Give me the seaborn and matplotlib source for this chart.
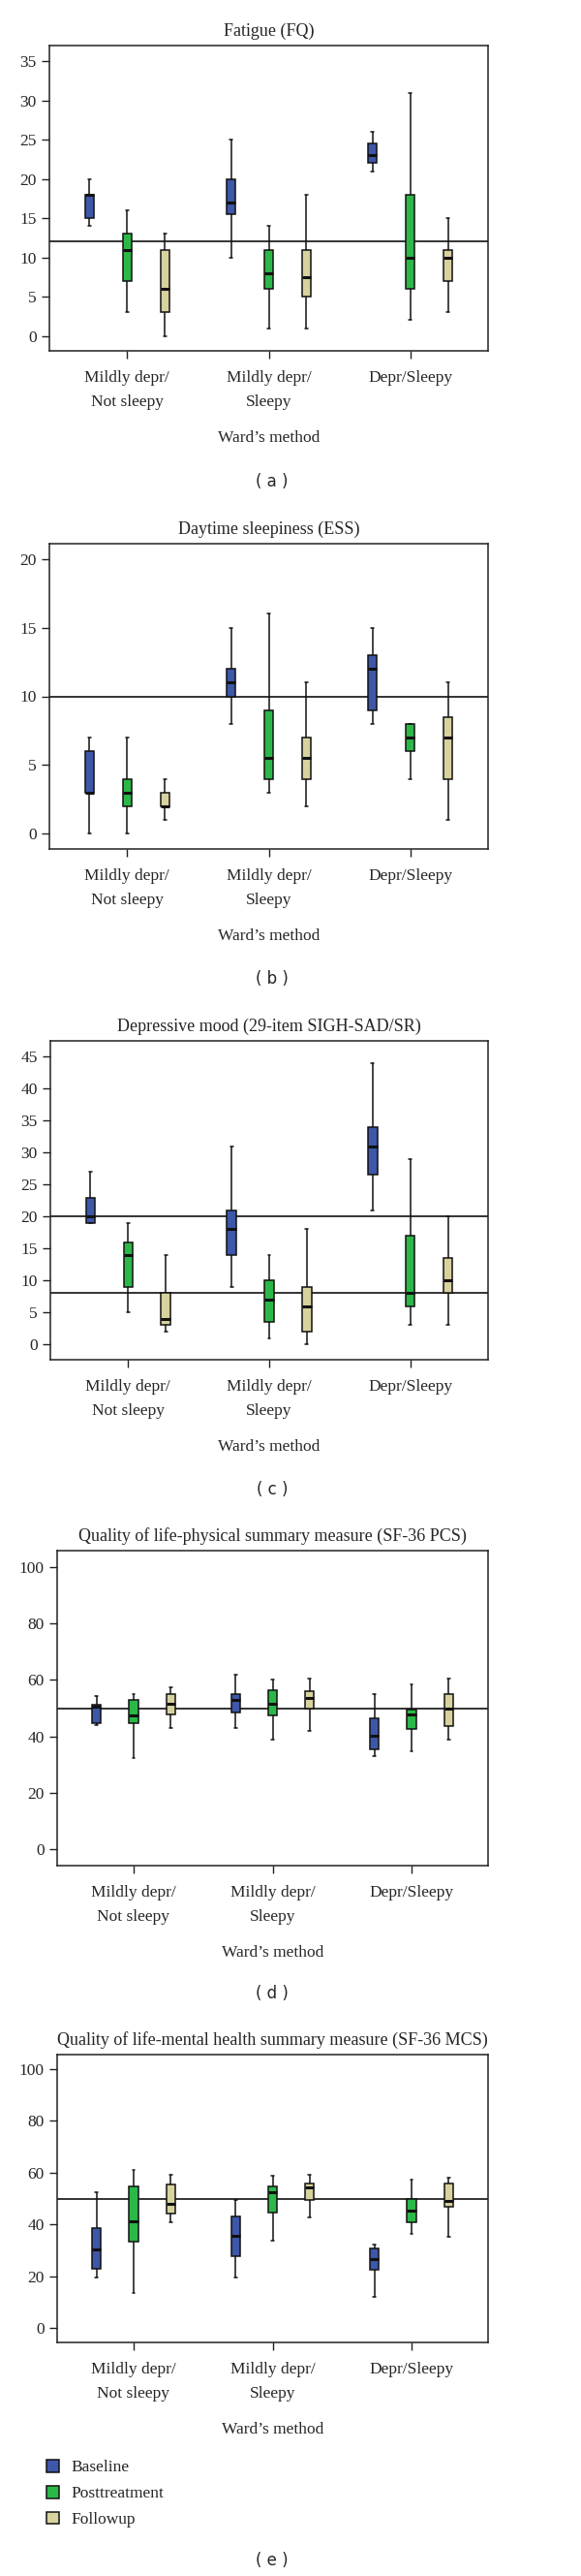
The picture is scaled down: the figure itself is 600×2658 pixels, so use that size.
import numpy as np
import pandas as pd
import seaborn as sns
import matplotlib.pyplot as plt

# 그룹 / 측정 시점
groups = ['Mildly depr/\nNot sleepy', 'Mildly depr/\nSleepy', 'Depr/Sleepy']
times = ['Baseline', 'Posttreatment', 'Followup']
colors = {'Baseline': '#3d57a9', 'Posttreatment': '#2cb848', 'Followup': '#d8d29e'}

# 각 상자: [min, Q1, median, Q3, max], 그룹 순서대로
fq_baseline = [[14, 15, 18, 18, 20], [10, 15.5, 17, 20, 25], [21, 22, 23, 24.5, 26]]
fq_post = [[3, 7, 11, 13, 16], [1, 6, 8, 11, 14], [2, 6, 10, 18, 31]]
fq_follow = [[0, 3, 6, 11, 13], [1, 5, 7.5, 11, 18], [3, 7, 10, 11, 15]]

ess_baseline = [[0, 3, 3, 6, 7], [8, 10, 11, 12, 15], [8, 9, 12, 13, 15]]
ess_post = [[0, 2, 3, 4, 7], [3, 4, 5.5, 9, 16], [4, 6, 7, 8, 8]]
ess_follow = [[1, 2, 2, 3, 4], [2, 4, 5.5, 7, 11], [1, 4, 7, 8.5, 11]]

sigh_baseline = [[19, 19, 20, 23, 27], [9, 14, 18, 21, 31], [21, 26.5, 31, 34, 44]]
sigh_post = [[5, 9, 14, 16, 19], [1, 3.5, 7, 10, 14], [3, 6, 8, 17, 29]]
sigh_follow = [[2, 3, 4, 8, 14], [0, 2, 6, 9, 18], [3, 8, 10, 13.5, 20]]

pcs_baseline = [[44, 44.7, 50.5, 51.3, 54.3], [42.9, 48.5, 52.8, 54.9, 61.9], [33.1, 35.5, 40.3, 46.3, 54.9]]
pcs_post = [[32.3, 44.7, 47.4, 53, 54.9], [39, 47.4, 51.4, 56.3, 60], [34.6, 42.5, 47.8, 49.6, 58.3]]
pcs_follow = [[42.9, 47.7, 51.7, 55.1, 57.4], [42, 50, 53.5, 56, 60.5], [39, 43.8, 49.9, 54.9, 60.5]]

mcs_baseline = [[19.5, 23, 30.5, 38.5, 52.6], [19.5, 27.8, 35.5, 42.9, 49.4], [12, 22.4, 26.7, 30.6, 32.3]]
mcs_post = [[13.5, 33.5, 41.2, 54.7, 61], [33.8, 44.7, 52.3, 54.7, 58.6], [36.4, 41, 45.5, 50, 57.4]]
mcs_follow = [[41, 44.2, 47.9, 55.4, 59], [42.6, 49.5, 54.2, 55.7, 59.3], [35.4, 46.9, 49.2, 55.9, 58.2]]

panel_titles = ['Fatigue (FQ)', 'Daytime sleepiness (ESS)', 'Depressive mood (29-item SIGH-SAD/SR)',
                'Quality of life-physical summary measure (SF-36 PCS)',
                'Quality of life-mental health summary measure (SF-36 MCS)']
panel_letters = ['( a )', '( b )', '( c )', '( d )', '( e )']
ref_lines = [[12], [10], [20, 8], [50], [50]]
y_limits = [(-1.9, 37), (-1.1, 21.1), (-2.4, 47.5), (-5.7, 105.7), (-5.5, 105.5)]
y_ticks = [range(0, 36, 5), range(0, 21, 5), range(0, 46, 5), range(0, 101, 20), range(0, 101, 20)]

panel_data = [
    [fq_baseline, fq_post, fq_follow],
    [ess_baseline, ess_post, ess_follow],
    [sigh_baseline, sigh_post, sigh_follow],
    [pcs_baseline, pcs_post, pcs_follow],
    [mcs_baseline, mcs_post, mcs_follow],
]

# 픽셀 기준 축 위치 (x0, y0, x1, y1)
axes_px = [(51, 47, 504, 362), (51, 561, 504, 876), (52, 1074, 504, 1403),
           (59, 1600, 504, 1925), (59, 2120, 504, 2417)]
letter_y = [497, 1010, 1537, 2057, 2642]

W, H = 600, 2658

sns.set_style('ticks')
plt.rcParams['font.family'] = ['Liberation Serif', 'DejaVu Serif']
plt.rcParams['axes.edgecolor'] = '#222222'
plt.rcParams['axes.linewidth'] = 1.1


def to_long(series):
    rows = []
    for t, boxes in zip(times, series):
        for g, vals in zip(groups, boxes):
            for v in vals:
                rows.append({'group': g, 'time': t, 'value': v})
    return pd.DataFrame(rows)


fig = plt.figure(figsize=(W / 100, H / 100), dpi=100)

for i in range(5):
    x0, y0, x1, y1 = axes_px[i]
    ax = fig.add_axes([x0 / W, 1 - y1 / H, (x1 - x0) / W, (y1 - y0) / H])
    df = to_long(panel_data[i])
    sns.boxplot(data=df, x='group', y='value', hue='time', order=groups, hue_order=times,
                palette=colors, saturation=1, width=0.8, gap=0.76, whis=(0, 100),
                linecolor='#111111', linewidth=1.1, capwidths=0.02,
                medianprops={'linewidth': 2.2, 'color': '#111111'},
                legend=(i == 4), ax=ax)
    for yv in ref_lines[i]:
        ax.axhline(yv, color='#111111', lw=1.2, zorder=1)
    ax.set_xlim(-0.55, 2.55)
    ax.set_ylim(*y_limits[i])
    ax.set_yticks(list(y_ticks[i]))
    ax.tick_params(axis='both', labelsize=12.5, length=5.5, width=1, color='#222222')
    ax.tick_params(axis='x', pad=9)
    ax.tick_params(axis='y', pad=4)
    for lab in ax.get_xticklabels():
        lab.set_linespacing(1.75)
    ax.set_ylabel('')
    ax.set_xlabel('Ward\u2019s method', fontsize=12.5, labelpad=15)
    ax.set_title(panel_titles[i], fontsize=13, pad=7)
    fig.text(281 / W, 1 - letter_y[i] / H, panel_letters[i], ha='center', va='center',
             fontsize=12, family='DejaVu Sans')

    if i == 4:
        sns.move_legend(ax, 'upper left', bbox_to_anchor=(48 / W, 1 - 2538 / H),
                        bbox_transform=fig.transFigure, frameon=False, title=None,
                        fontsize=12.5, handlelength=0.75, handleheight=0.75,
                        handletextpad=0.7, labelspacing=0.6, borderpad=0, borderaxespad=0)

fig.savefig('out.png', dpi=100)
